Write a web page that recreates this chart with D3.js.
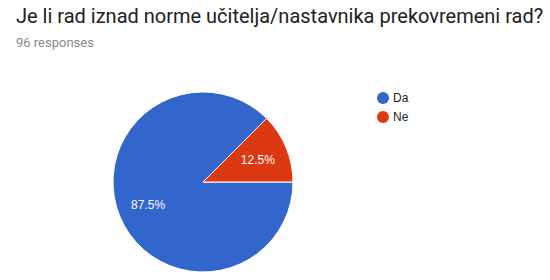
<!DOCTYPE html>
<html>
<head>
<meta charset="utf-8">
<script src="https://cdn.jsdelivr.net/npm/d3@7"></script>
<style>
  body { margin: 0; background: #fff; }
  svg { display: block; }
</style>
</head>
<body>
<svg id="chart" width="550" height="280"></svg>
<script>
// data
var categories = ["Da", "Ne"];
var values = [84, 12];
var colors = ["#3366cc", "#dc3912"];
var title = "Je li rad iznad norme učitelja/nastavnika prekovremeni rad?";
var subtitle = "96 responses";

var svg = d3.select("#chart");
var width = +svg.attr("width");
var height = +svg.attr("height");

// header
svg.append("text")
	.attr("x", 16)
	.attr("y", 23)
	.attr("font-family", "Roboto, Arial, sans-serif")
	.attr("font-size", 20)
	.attr("fill", "#212121")
	.text(title);

svg.append("text")
	.attr("x", 16)
	.attr("y", 47)
	.attr("font-family", "Roboto, Arial, sans-serif")
	.attr("font-size", 13)
	.attr("fill", "#8a8a8a")
	.text(subtitle);

// pie
var cx = 203, cy = 182, r = 90;
var total = d3.sum(values);

var pie = d3.pie()
	.sort(null)
	.startAngle(Math.PI / 2)
	.endAngle(Math.PI / 2 + 2 * Math.PI);

var arc = d3.arc().innerRadius(0).outerRadius(r);
var labelArc = d3.arc().innerRadius(r * 0.66).outerRadius(r * 0.66);

var arcs = pie(values);

var g = svg.append("g").attr("transform", "translate(" + cx + "," + cy + ")");

g.selectAll("path")
	.data(arcs)
	.enter()
	.append("path")
	.attr("d", arc)
	.attr("fill", function(d, i) { return colors[i]; })
	.attr("stroke", "#fff")
	.attr("stroke-width", 1);

g.selectAll("text")
	.data(arcs)
	.enter()
	.append("text")
	.attr("transform", function(d) { return "translate(" + labelArc.centroid(d) + ")"; })
	.attr("text-anchor", "middle")
	.attr("dy", "0.36em")
	.attr("font-family", "Arial, 'Liberation Sans', sans-serif")
	.attr("font-size", 12)
	.attr("fill", "#fff")
	.text(function(d) { return d3.format(".1%")(d.value / total); });

// legend
var legend = svg.append("g")
	.selectAll("g")
	.data(categories)
	.enter()
	.append("g")
	.attr("transform", function(d, i) { return "translate(383," + (98 + i * 19) + ")"; });

legend.append("circle")
	.attr("r", 6)
	.attr("fill", function(d, i) { return colors[i]; });

legend.append("text")
	.attr("x", 10)
	.attr("dy", "0.36em")
	.attr("font-family", "Arial, 'Liberation Sans', sans-serif")
	.attr("font-size", 12)
	.attr("fill", "#222")
	.text(function(d) { return d; });
</script>
</body>
</html>
